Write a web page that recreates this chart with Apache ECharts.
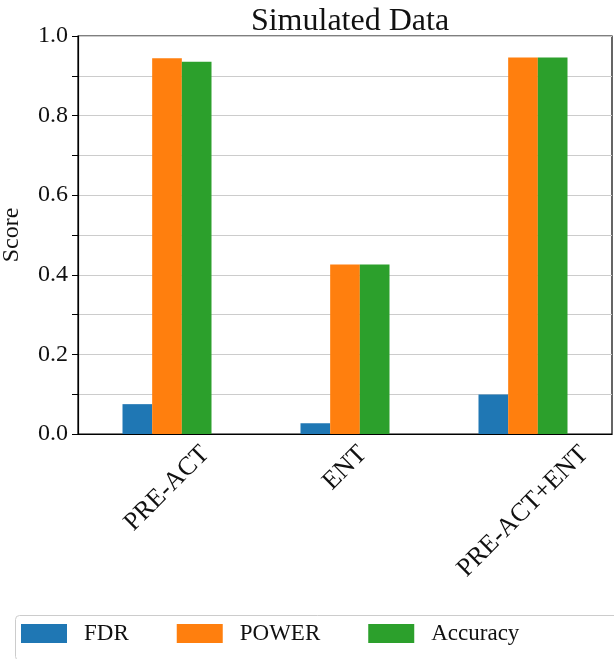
<!DOCTYPE html>
<html>
<head>
<meta charset="utf-8">
<script src="https://cdn.jsdelivr.net/npm/echarts@6/dist/echarts.min.js"></script>
<style>html,body{margin:0;padding:0;background:#fff}#c{width:614px;height:659px}</style>
</head>
<body>
<div id="c"></div>
<script>
const categories = ['PRE-ACT', 'ENT', 'PRE-ACT+ENT'];
const fdr = [0.075, 0.027, 0.099];
const power = [0.944, 0.426, 0.946];
const accuracy = [0.935, 0.426, 0.946];
const seriesNames = ['FDR', 'POWER', 'Accuracy'];
const colors = ['#1f77b4', '#ff7f0e', '#2ca02c'];
const FONT = '"Liberation Serif", "DejaVu Serif", serif';
const XFS = 26;
const LH = 29;

// matplotlib-style rotated labels: bounding box centred under the tick, top aligned
const ctx = document.createElement('canvas').getContext('2d');
ctx.font = XFS + 'px "Liberation Serif"';
const xData = categories.map(c => {
  const w = ctx.measureText(c).width;
  const h = 0.707 * (w + 0.68 * XFS);
  const d = 10 + h / 2;
  const P = 1.414 * d;
  const Q = Math.max(0, 0.707 * d - LH / 2);
  return { value: c, textStyle: { align: 'center', verticalAlign: 'top', lineHeight: LH,
    fontFamily: FONT, fontSize: XFS, color: '#111', padding: [Q, P, 0, 0] } };
});

const chart = echarts.init(document.getElementById('c'));
const mk = (name, data, i) => ({
  name, type: 'bar', data, barGap: '0%', barCategoryGap: '50%',
  itemStyle: { color: colors[i] }, emphasis: { disabled: true }
});
chart.setOption({
  animation: false,
  title: {
    text: 'Simulated Data', left: 345, textAlign: 'center', top: 1,
    textStyle: { fontFamily: FONT, fontWeight: 'normal', fontSize: 32, color: '#111' }
  },
  grid: { left: 78, right: 2, top: 36, bottom: 225, show: true, borderColor: '#000', borderWidth: 1.2,
          backgroundColor: 'transparent', containLabel: false, outerBoundsMode: 'none' },
  graphic: [{
    type: 'rect', left: 13, top: 613, silent: true,
    shape: { width: 640, height: 45, r: 4 },
    style: { fill: 'none', stroke: '#cccccc', lineWidth: 1 }
  }],
  legend: {
    left: 13, top: 610, padding: [12, 8, 12, 8], itemWidth: 46, itemHeight: 19, itemGap: 48,
    icon: 'rect',
    textStyle: { fontFamily: FONT, fontSize: 23, color: '#111', padding: [0, 0, 0, 12] },
    data: seriesNames
  },
  xAxis: {
    type: 'category', data: xData,
    axisLine: { lineStyle: { color: '#000', width: 1.2 } },
    axisTick: { alignWithLabel: true, length: 6, lineStyle: { color: '#000' } },
    axisLabel: { rotate: 45, align: 'center', verticalAlign: 'top', fontFamily: FONT, fontSize: XFS, color: '#111', margin: 0 }
  },
  yAxis: {
    type: 'value', min: 0, max: 1, interval: 0.1,
    name: 'Score', nameLocation: 'middle', nameGap: 54,
    nameTextStyle: { fontFamily: FONT, fontSize: 24, color: '#111' },
    axisLine: { show: true, lineStyle: { color: '#000', width: 1.2 } },
    axisTick: { show: true, length: 6, lineStyle: { color: '#000' } },
    axisLabel: {
      fontFamily: FONT, fontSize: 24, color: '#111', margin: 10,
      formatter: v => (Math.round(v * 10) % 2 === 0 ? v.toFixed(1) : '')
    },
    splitLine: { lineStyle: { color: '#cccccc', width: 1.2 } }
  },
  series: [mk('FDR', fdr, 0), mk('POWER', power, 1), mk('Accuracy', accuracy, 2)]
});
</script>
</body>
</html>
